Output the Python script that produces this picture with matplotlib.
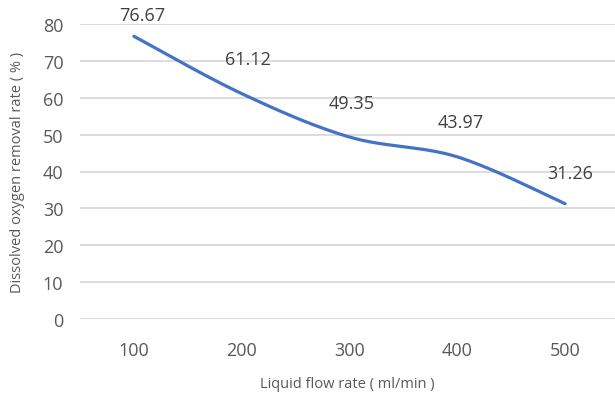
import numpy as np
import matplotlib
matplotlib.use("Agg")
import matplotlib.pyplot as plt

categories = ["100", "200", "300", "400", "500"]
values = [76.67, 61.12, 49.35, 43.97, 31.26]
yticks = [0, 10, 20, 30, 40, 50, 60, 70, 80]

plt.rcParams['font.family'] = ['Open Sans', 'DejaVu Sans']
GRAY = '#595959'

W, H = 615, 402
fig = plt.figure(figsize=(W / 100, H / 100), dpi=100)
left, right, top, bottom = 80, 619, 25, 320
ax = fig.add_axes([left / W, 1 - bottom / H, (right - left) / W, (bottom - top) / H])
ax.set_xlim(-0.5, len(categories) - 0.5)
ax.set_ylim(0, 80)

# smooth curve (Catmull-Rom as cubic Bezier)
x = np.arange(len(values), dtype=float)
y = np.array(values, dtype=float)
P = np.column_stack([x, y])
pts = []
t = np.linspace(0, 1, 40)
for i in range(len(P) - 1):
    p0 = P[i - 1] if i > 0 else P[i]
    p1 = P[i]
    p2 = P[i + 1]
    p3 = P[i + 2] if i + 2 < len(P) else P[i + 1]
    c1 = p1 + (p2 - p0) / 6
    c2 = p2 - (p3 - p1) / 6
    seg = ((1 - t)[:, None] ** 3 * p1 + 3 * ((1 - t) ** 2 * t)[:, None] * c1
           + 3 * ((1 - t) * t ** 2)[:, None] * c2 + (t ** 3)[:, None] * p2)
    pts.append(seg if i == 0 else seg[1:])
curve = np.vstack(pts)
ax.plot(curve[:, 0], curve[:, 1], color='#4472C4', lw=2.3, solid_capstyle='round', zorder=3)

offsets_px = [(8, 21), (6, 35), (2, 34), (3, 35), (5, 31)]
for i, v in enumerate(values):
    dx, dy = offsets_px[i]
    ax.annotate(f"{v:.2f}", (i, v), xytext=(dx * 0.72, dy * 0.72), textcoords='offset points',
                ha='center', va='center', fontsize=13, color='#404040', annotation_clip=False)

ax.set_yticks(yticks)
ax.set_xticks(x)
ax.set_xticklabels(categories)
ax.yaxis.grid(True, color='#D9D9D9', lw=1.3)
ax.set_axisbelow(True)
for s in ax.spines.values():
    s.set_visible(False)
ax.tick_params(axis='both', length=0, labelsize=13, colors=GRAY)
ax.tick_params(axis='x', pad=16)
ax.tick_params(axis='y', pad=12)

fig.text(347 / W, 1 - 385 / H, "Liquid flow rate ( ml/min )", ha='center', va='center',
         fontsize=10.5, color=GRAY)
fig.text(18 / W, 1 - 172 / H, "Dissolved oxygen removal rate ( % )", ha='center', va='center',
         rotation=90, fontsize=10.5, color=GRAY)

fig.savefig("out.png", dpi=100)
